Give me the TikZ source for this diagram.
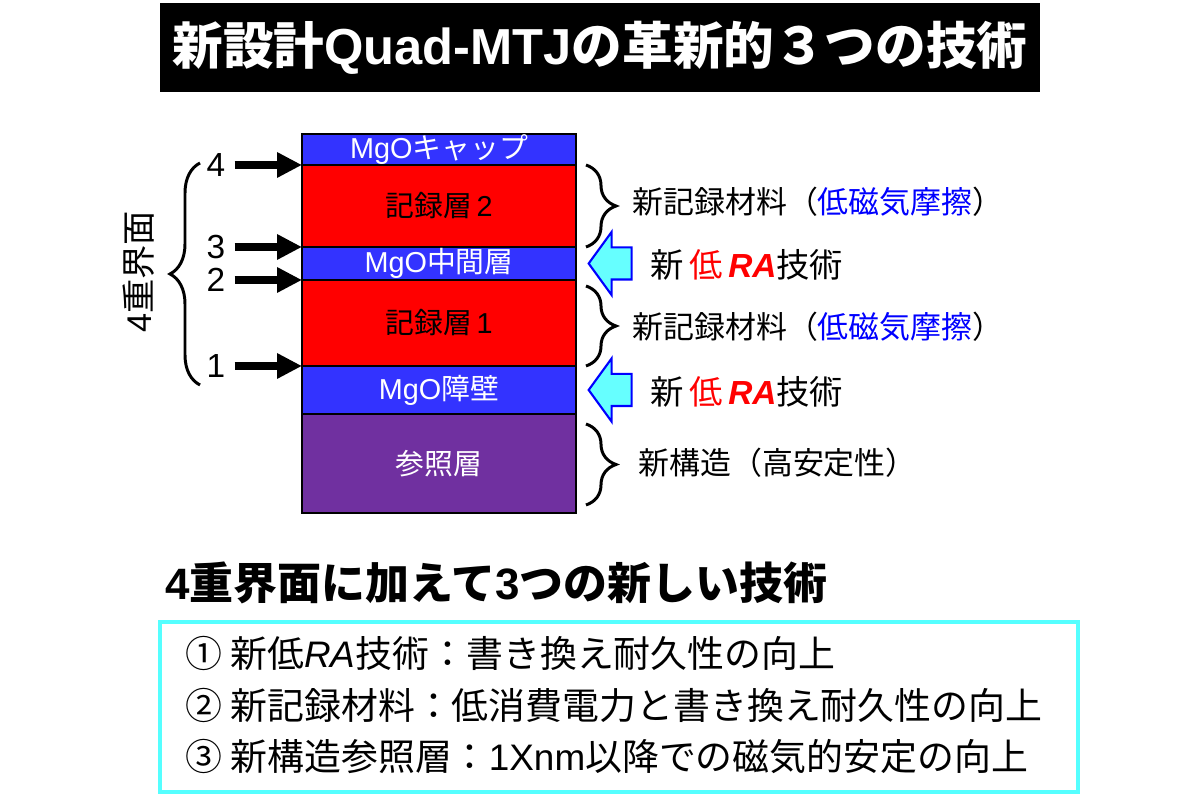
\documentclass[tikz,border=0pt]{standalone}
\usepackage{fontspec}
\setmainfont{Noto Sans CJK JP}
\newfontfamily\latinsans{Liberation Sans}
\usetikzlibrary{arrows.meta,positioning,decorations.pathreplacing,shapes.arrows}

\definecolor{mgoblue}{RGB}{51,51,255}
\definecolor{recred}{RGB}{255,0,0}
\definecolor{refpurple}{RGB}{112,48,160}
\definecolor{racyan}{RGB}{102,255,255}
\definecolor{boxcyan}{RGB}{85,255,255}
\definecolor{noteblue}{RGB}{0,0,255}

\newcommand{\fsz}[1]{\fontsize{#1pt}{#1pt}\selectfont}
\newcommand{\lowRA}{\textcolor{recred}{\,低\,{\latinsans\bfseries\itshape RA}}}

\begin{document}
\begin{tikzpicture}[
    layer/.style={rectangle, draw=black, line width=1.5pt, inner sep=0pt,
                outer sep=0pt, minimum width=5.48cm, font=\fsz{16.4}},
    mgo/.style={layer, fill=mgoblue, text=white},
    rec/.style={layer, fill=recred, text=black},
    num/.style={inner sep=0pt, font=\latinsans\fsz{19}},
    iface/.style={-{Triangle[length=0.5cm,width=0.48cm]}, line width=4.5pt,
                shorten <=0.18cm},
    curly/.style={decorate, decoration={brace, amplitude=0.6cm}, line width=1.7pt},
    note/.style={anchor=west, inner sep=0pt, font=\fsz{17.6}},
    raarrow/.style={single arrow, draw=noteblue, fill=racyan, line width=1.2pt,
                shape border rotate=180, minimum height=0.86cm,
                inner xsep=0pt, inner ysep=0.3cm, single arrow head extend=0.31cm,
                single arrow tip angle=108},
    item/.style={anchor=west, inner sep=0pt, font=\fsz{21}},
]
\useasboundingbox (0,0) rectangle (24,16);

% --- Title ---
\node[fill=black, text=white, minimum width=17.6cm, minimum height=1.78cm,
  font=\bfseries\fsz{28.8}] (title) at (12,15.05)
  {新設計{\latinsans Quad-MTJ}の革新的３つの技術};

% --- Layer stack ---
\node[mgo, minimum height=0.62cm] (cap) at (8.78,13.01) {{\latinsans MgO}キャップ};
\node[rec, minimum height=1.64cm, below=0pt of cap] (rec2) {記録層\,{\latinsans 2}};
\node[mgo, minimum height=0.66cm, below=0pt of rec2] (mid) {{\latinsans MgO}中間層};
\node[rec, minimum height=1.72cm, below=0pt of mid] (rec1) {記録層\,{\latinsans 1}};
\node[mgo, minimum height=0.96cm, below=0pt of rec1] (bar) {{\latinsans MgO}障壁};
\node[layer, fill=refpurple, text=white, minimum height=1.98cm,
  below=0pt of bar] (ref) {参照層};

% --- Interfaces ---
\node[num, left=1.53cm of cap.south west] (n4) {4};
\node[num, left=1.53cm of rec2.south west] (n3) {3};
\node[num, left=1.53cm of mid.south west] (n2) {2};
\node[num, left=1.53cm of rec1.south west] (n1) {1};
\draw[iface] (n4.east) -- (cap.south west);
\draw[iface] (n3.east) -- (rec2.south west);
\draw[iface] (n2.east) -- (mid.south west);
\draw[iface] (n1.east) -- (rec1.south west);

\draw[curly] (4.0,8.3) -- (4.0,12.74);
\node[rotate=90, inner sep=0pt, font=\fsz{19.5}] (quad) at (2.78,10.56)
  {{\latinsans 4}重界面};

% --- New techniques ---
\draw[curly] ([xshift=0.2cm]rec2.north east) -- ([xshift=0.2cm]rec2.south east);
\draw[curly] ([shift={(0.2cm,-0.12cm)}]rec1.north east)
  -- ([xshift=0.2cm]rec1.south east);
\draw[curly] ([shift={(0.2cm,-0.2cm)}]ref.north east)
  -- ([shift={(0.2cm,0.16cm)}]ref.south east);

\node[raarrow] (rai2) at ([xshift=0.8cm]mid.east) {};
\node[raarrow] (rai1) at ([xshift=0.8cm]bar.east) {};

\node[note] (mat2) at (12.64,11.96) {新記録材料（\textcolor{noteblue}{低磁気摩擦}）};
\node[note, font=\fsz{19}] (ra2) at (13.0,10.70) {新\lowRA 技術};
\node[note] (mat1) at (12.64,9.46) {新記録材料（\textcolor{noteblue}{低磁気摩擦}）};
\node[note, font=\fsz{19}] (ra1) at (13.0,8.16) {新\lowRA 技術};
\node[note] (stab) at (12.76,6.74) {新構造（高安定性）};

% --- Summary ---
\node[anchor=west, inner sep=0pt, font=\bfseries\fsz{25}] (sum) at (3.3,4.34)
  {{\latinsans 4}重界面に加えて{\latinsans 3}つの新しい技術};
\node[draw=boxcyan, line width=2.3pt, minimum width=18.36cm,
  minimum height=3.4cm] (list) at (12.38,1.86) {};
\node[item] (l1) at (3.7,2.94) {① 新低{\latinsans\itshape RA}技術：書き換え耐久性の向上};
\node[item] (l2) at (3.7,1.90) {② 新記録材料：低消費電力と書き換え耐久性の向上};
\node[item] (l3) at (3.7,0.86) {③ 新構造参照層：{\latinsans 1Xnm}以降での磁気的安定の向上};

\end{tikzpicture}
\end{document}
